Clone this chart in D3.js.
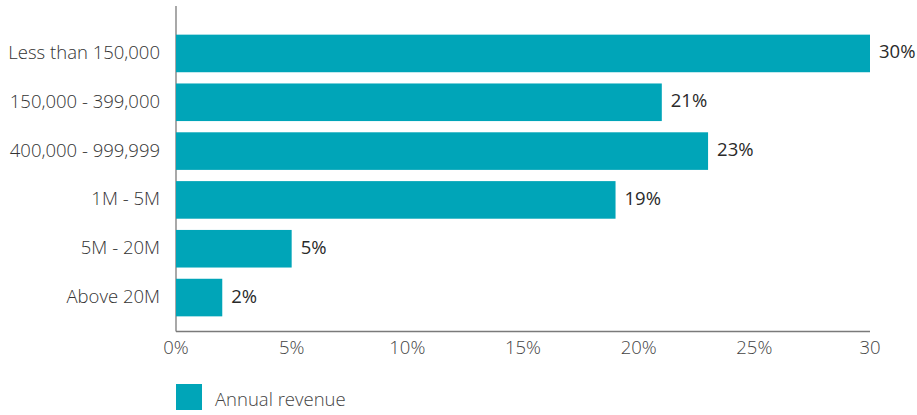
<!DOCTYPE html>
<html>
<head>
<meta charset="utf-8">
<script src="https://cdn.jsdelivr.net/npm/d3@7"></script>
<style>
  html, body { margin: 0; padding: 0; background: #fff; }
  svg { display: block; font-family: "Open Sans", sans-serif; }
</style>
</head>
<body>
<svg id="chart" width="917" height="415"></svg>
<script>
// Revenue bands and share of respondents (%)
const categories = ["Less than 150,000", "150,000 - 399,000", "400,000 - 999,999", "1M - 5M", "5M - 20M", "Above 20M"];
const values = [30, 21, 23, 19, 5, 2];
const tickValues = [0, 5, 10, 15, 20, 25, 30];
const tickLabels = ["0%", "5%", "10%", "15%", "20%", "25%", "30"];
const seriesName = "Annual revenue";

const barColor = "#00A5B8";
const fontSize = 18.5;
const svg = d3.select("#chart");

const x = d3.scaleLinear().domain([0, 30]).range([176, 870]);
const y = d3.scaleBand().domain(categories).range([20, 331]).paddingInner(0.23).paddingOuter(0.3);

// Axis lines
svg.append("line")
  .attr("x1", x(0)).attr("x2", x(0)).attr("y1", 6).attr("y2", 331.5)
  .attr("stroke", "#7a7a7a").attr("stroke-width", 1.3);
svg.append("line")
  .attr("x1", x(0)).attr("x2", x(30)).attr("y1", 331.5).attr("y2", 331.5)
  .attr("stroke", "#7a7a7a").attr("stroke-width", 1.3);

// Bars
svg.append("g").selectAll("rect")
  .data(categories)
  .join("rect")
  .attr("x", x(0))
  .attr("y", d => y(d))
  .attr("width", (d, i) => x(values[i]) - x(0))
  .attr("height", y.bandwidth())
  .attr("fill", barColor);

// Value labels
svg.append("g").selectAll("text")
  .data(categories)
  .join("text")
  .attr("x", (d, i) => x(values[i]) + 9)
  .attr("y", d => y(d) + y.bandwidth() / 2 + 5)
  .attr("font-size", fontSize)
  .attr("fill", "#2a2a2a")
  .text((d, i) => values[i] + "%");

// Category labels
svg.append("g").selectAll("text")
  .data(categories)
  .join("text")
  .attr("x", 160)
  .attr("y", d => y(d) + y.bandwidth() / 2 + 5.5)
  .attr("text-anchor", "end")
  .attr("font-size", fontSize)
  .attr("font-weight", 300)
  .attr("fill", "#333")
  .text(d => d);

// X tick labels
svg.append("g").selectAll("text")
  .data(tickValues)
  .join("text")
  .attr("x", d => x(d))
  .attr("y", 354)
  .attr("text-anchor", "middle")
  .attr("font-size", fontSize)
  .attr("font-weight", 300)
  .attr("fill", "#444")
  .text((d, i) => tickLabels[i]);

// Legend
svg.append("rect")
  .attr("x", 176).attr("y", 384).attr("width", 26).attr("height", 26)
  .attr("fill", barColor);
svg.append("text")
  .attr("x", 215).attr("y", 406)
  .attr("font-size", fontSize)
  .attr("font-weight", 300)
  .attr("fill", "#444")
  .text(seriesName);
</script>
</body>
</html>
